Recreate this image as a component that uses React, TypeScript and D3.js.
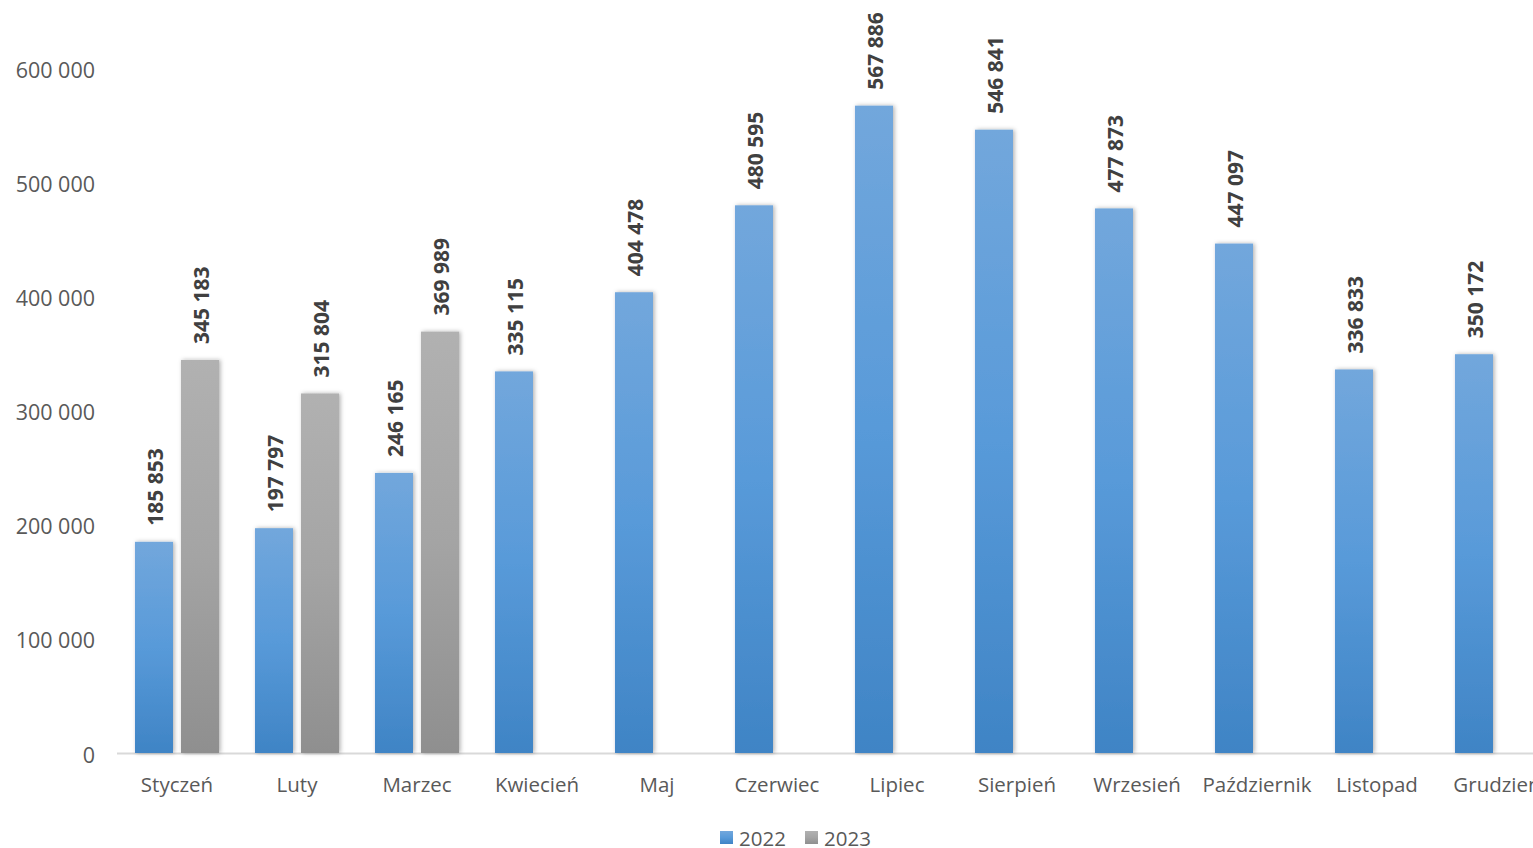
import React from 'react'
import { scaleBand, scaleLinear, format } from 'd3'

const months = ['Styczeń', 'Luty', 'Marzec', 'Kwiecień', 'Maj', 'Czerwiec', 'Lipiec', 'Sierpień', 'Wrzesień', 'Październik', 'Listopad', 'Grudzień']
const series = ['2022', '2023']
const values2022 = [185853, 197797, 246165, 335115, 404478, 480595, 567886, 546841, 477873, 447097, 336833, 350172]
const values2023 = [345183, 315804, 369989]
const yTicks = [0, 100000, 200000, 300000, 400000, 500000, 600000]

const W = 1533
const H = 848

const fmt = (v: number) => format(',')(v).replace(/,/g, ' ')

const App = () => {
    const y = scaleLinear().domain([0, 600000]).range([754, 69])
    const x = scaleBand<string>().domain(months).range([117, 1557]).paddingInner(0).paddingOuter(0)
    const inner = scaleBand<string>().domain(series).range([0, x.bandwidth()]).paddingInner(0.174).paddingOuter(0.391)

    const bars: { m: string; s: string; v: number }[] = []
    months.forEach((m, i) => {
        bars.push({ m, s: '2022', v: values2022[i] })
        if (values2023[i] !== undefined) bars.push({ m, s: '2023', v: values2023[i] })
    })

    const font = "'Segoe UI', 'Open Sans', sans-serif"

    return (
        <svg width={W} height={H} style={{ position: 'absolute', left: 0, top: 0, background: '#fff' }}>
            <defs>
                <linearGradient id="g2022" x1="0" y1="0" x2="0" y2="1">
                    <stop offset="0" stopColor="#72a7dc" />
                    <stop offset="0.5" stopColor="#589ad9" />
                    <stop offset="1" stopColor="#3f84c5" />
                </linearGradient>
                <linearGradient id="g2023" x1="0" y1="0" x2="0" y2="1">
                    <stop offset="0" stopColor="#b1b1b1" />
                    <stop offset="0.5" stopColor="#a4a4a4" />
                    <stop offset="1" stopColor="#8f8f8f" />
                </linearGradient>
                <filter id="shadow" x="-30%" y="-5%" width="160%" height="110%">
                    <feDropShadow dx="1.5" dy="0" stdDeviation="2" floodColor="#000" floodOpacity="0.3" />
                </filter>
            </defs>

            {yTicks.map(t => (
                <text key={t} x={95} y={y(t)} textAnchor="end" dominantBaseline="central"
                    fontFamily={font} fontSize={21.5} fill="#595959">{fmt(t)}</text>
            ))}

            <line x1={117} x2={W} y1={y(0) - 0.5} y2={y(0) - 0.5} stroke="#d9d9d9" strokeWidth={2} />

            {bars.map(b => {
                const bx = (x(b.m) as number) + (inner(b.s) as number)
                const bw = inner.bandwidth()
                return (
                    <g key={b.m + b.s}>
                        <rect x={bx} y={y(b.v)} width={bw} height={y(0) - 1 - y(b.v)}
                            fill={`url(#g${b.s})`} filter="url(#shadow)" />
                        <text transform={`translate(${bx + bw / 2 + 1},${y(b.v) - 16}) rotate(-90)`}
                            dominantBaseline="central" fontFamily={font} fontWeight="bold" fontSize={21}
                            fill="#404040">{fmt(b.v)}</text>
                    </g>
                )
            })}

            {months.map(m => (
                <text key={m} x={(x(m) as number) + x.bandwidth() / 2} y={784} textAnchor="middle"
                    dominantBaseline="central" fontFamily={font} fontSize={20.5} fill="#595959">{m}</text>
            ))}

            {series.map((s, i) => (
                <g key={s} transform={`translate(${720 + i * 85},831)`}>
                    <rect width={13} height={13} fill={`url(#g${s})`} />
                    <text x={19} y={6.5} dominantBaseline="central" fontFamily={font} fontSize={20.5} fill="#595959">{s}</text>
                </g>
            ))}
        </svg>
    )
}

export default App
